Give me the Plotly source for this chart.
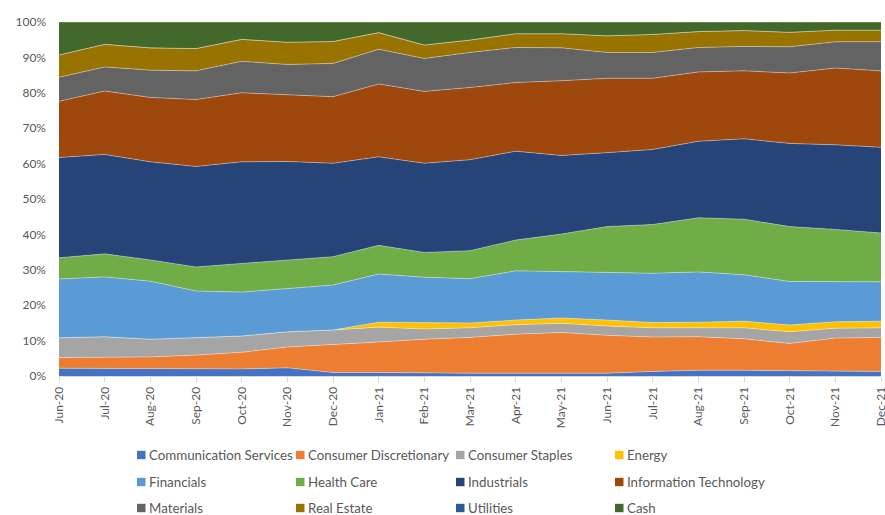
import plotly.graph_objects as go

months = ["Jun-20", "Jul-20", "Aug-20", "Sep-20", "Oct-20", "Nov-20", "Dec-20",
          "Jan-21", "Feb-21", "Mar-21", "Apr-21", "May-21", "Jun-21", "Jul-21",
          "Aug-21", "Sep-21", "Oct-21", "Nov-21", "Dec-21"]

communication_services = [2.2, 2.2, 2.2, 2.2, 2.0, 2.3, 1.0, 1.0, 0.8, 0.8, 0.8, 0.8, 0.8, 1.3, 1.6, 1.6, 1.5, 1.3, 1.3]
consumer_discretionary = [3.0, 3.0, 3.2, 3.7, 4.7, 5.9, 7.8, 8.6, 9.6, 10.1, 11.0, 11.5, 10.7, 9.7, 9.5, 8.9, 7.7, 9.4, 9.6]
consumer_staples = [5.6, 5.9, 5.0, 4.9, 4.6, 4.3, 4.2, 4.2, 2.9, 2.7, 2.7, 2.6, 2.6, 2.6, 2.5, 3.1, 3.3, 2.8, 2.7]
energy = [0, 0, 0, 0, 0, 0, 0, 1.4, 1.8, 1.4, 1.3, 1.5, 1.7, 1.5, 1.6, 1.9, 1.9, 1.8, 1.9]
financials = [16.6, 16.9, 16.4, 13.2, 12.4, 12.2, 12.7, 13.6, 12.8, 12.5, 13.9, 13.1, 13.4, 13.9, 14.2, 13.1, 12.3, 11.3, 11.1]
health_care = [6.0, 6.5, 6.0, 6.8, 8.1, 8.0, 8.0, 8.1, 7.0, 7.9, 8.7, 10.6, 13.0, 13.8, 15.3, 15.7, 15.5, 14.8, 13.8]
industrials = [28.3, 28.1, 27.7, 28.4, 28.7, 27.9, 26.4, 25.0, 25.2, 25.7, 25.1, 22.2, 20.9, 21.2, 21.6, 22.7, 23.5, 23.9, 24.2]
information_technology = [15.9, 17.9, 18.2, 18.9, 19.5, 18.9, 18.8, 20.6, 20.3, 20.4, 19.4, 21.1, 21.0, 20.1, 19.6, 19.2, 19.9, 21.7, 21.6]
materials = [6.8, 6.8, 7.7, 8.1, 8.9, 8.5, 9.4, 9.8, 9.3, 9.9, 9.9, 9.3, 7.3, 7.3, 6.9, 6.9, 7.4, 7.4, 8.2]
real_estate = [6.3, 6.4, 6.3, 6.3, 6.2, 6.3, 6.2, 4.7, 3.8, 3.5, 3.9, 4.0, 4.7, 5.1, 4.5, 4.5, 4.1, 3.3, 3.3]
utilities = [0] * 19
cash = [9.3, 6.3, 7.3, 7.5, 4.9, 5.7, 5.5, 3.0, 6.5, 5.1, 3.3, 3.3, 3.9, 3.5, 2.7, 2.4, 2.9, 2.3, 2.3]

series_names = ["Communication Services", "Consumer Discretionary", "Consumer Staples", "Energy",
                "Financials", "Health Care", "Industrials", "Information Technology",
                "Materials", "Real Estate", "Utilities", "Cash"]
series_values = [communication_services, consumer_discretionary, consumer_staples, energy,
                 financials, health_care, industrials, information_technology,
                 materials, real_estate, utilities, cash]
colors = ["#4472C4", "#ED7D31", "#A5A5A5", "#FFC000", "#5B9BD5", "#70AD47",
          "#264478", "#9E480E", "#636363", "#997300", "#255E91", "#43682B"]

FONT = "Lato"
TXT = "#595959"
W, H = 885, 515
ML, MR, MT, MB = 59, 4, 22, 139
PW, PH = W - ML - MR, H - MT - MB


def px_x(px):
    return (px - ML) / PW


def px_y(py):
    return (H - MB - py) / PH


fig = go.Figure()
for name, vals, col in zip(series_names, series_values, colors):
    fig.add_trace(go.Scatter(
        x=months, y=vals, name=name, mode="lines", stackgroup="one", groupnorm="percent",
        line=dict(width=0.8, color="rgba(255,255,255,0.45)"), fillcolor=col,
        showlegend=False, hoverinfo="x+y+name"))

# legend: 3 rows x 4 columns, Excel-style small squares next to the labels
col_px = [137, 296, 456, 615]
row_px = [455, 482, 508]
for i, (name, col) in enumerate(zip(series_names, colors)):
    cx = col_px[i % 4]
    cy = row_px[i // 4]
    fig.add_shape(type="rect", xref="paper", yref="paper",
                  x0=px_x(cx), x1=px_x(cx + 8.5), y0=px_y(cy + 4.2), y1=px_y(cy - 4.2),
                  fillcolor=col, line=dict(width=0), layer="above")
    fig.add_annotation(text=name, xref="paper", yref="paper", x=px_x(cx + 10), y=px_y(cy),
                       xanchor="left", yanchor="middle", showarrow=False,
                       font=dict(family=FONT, size=13.3, color=TXT))

fig.update_layout(
    width=W, height=H,
    margin=dict(l=ML, r=MR, t=MT, b=MB, autoexpand=False),
    paper_bgcolor="white", plot_bgcolor="white",
    font=dict(family=FONT, size=12, color=TXT),
    showlegend=False,
    xaxis=dict(type="category", range=[0, 18], showgrid=False, tickangle=-90,
               ticks="outside", ticklen=5, tickcolor="#D9D9D9", showline=True,
               linecolor="#D9D9D9", linewidth=1, automargin=False,
               tickfont=dict(size=12, color=TXT)),
    yaxis=dict(range=[0, 100], dtick=10, ticksuffix="%", showgrid=False, zeroline=False,
               showline=False, automargin=False, ticklabelstandoff=12,
               tickfont=dict(size=12, color=TXT)),
)

fig.write_html("out.html", config={"displayModeBar": False},
               post_script="document.body.style.margin='0';document.body.style.overflow='hidden';")
